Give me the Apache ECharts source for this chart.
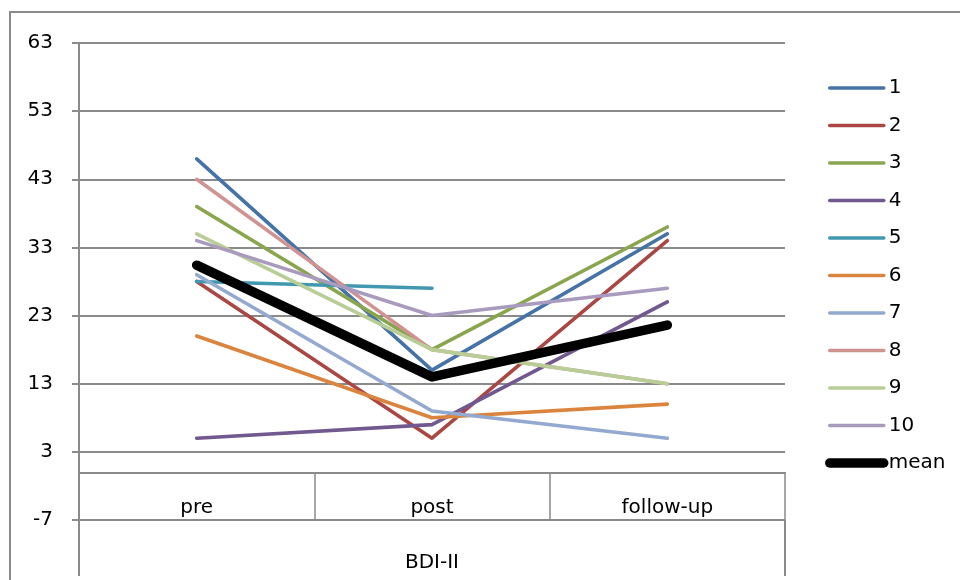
<!DOCTYPE html>
<html>
<head>
<meta charset="utf-8">
<title>BDI-II</title>
<script src="https://cdn.jsdelivr.net/npm/echarts@6/dist/echarts.min.js"></script>
<style>
  html, body { margin: 0; padding: 0; background: #fff; }
  #chart { width: 960px; height: 580px; }
</style>
</head>
<body>
<div id="chart"></div>
<script>
// Time points and the grouping label below them
const timePoints = ['pre', 'post', 'follow-up'];
const groupLabel = ['BDI-II'];

// BDI-II scores per participant (null = no measurement)
const p1 = [46, 15, 35];
const p2 = [28, 5, 34];
const p3 = [39, 18, 36];
const p4 = [5, 7, 25];
const p5 = [28, 27, null];
const p6 = [20, 8, 10];
const p7 = [29, 9, 5];
const p8 = [43, 18, 13];
const p9 = [35, 18, 13];
const p10 = [34, 23, 27];
const meanScores = [30.4, 14, 21.6];

const seriesNames = ['1', '2', '3', '4', '5', '6', '7', '8', '9', '10', 'mean'];
const seriesValues = [p1, p2, p3, p4, p5, p6, p7, p8, p9, p10, meanScores];
const seriesColors = ['#4572A7', '#AA4643', '#89A54E', '#71588F', '#4198AF',
                      '#DB843D', '#93A9CF', '#D19392', '#B9CD96', '#A99BBD', '#000000'];

const FONT = 'DejaVu Sans';
const GREY = '#8a8a8a';

const series = seriesNames.map((name, i) => {
  const isMean = name === 'mean';
  return {
    name: name,
    type: 'line',
    data: seriesValues[i],
    symbol: 'none',
    connectNulls: false,
    z: isMean ? 5 : 3,
    lineStyle: {
      color: seriesColors[i],
      width: isMean ? 9.5 : 3.6,
      cap: 'round',
      join: 'round'
    },
    itemStyle: { color: seriesColors[i] }
  };
});

const chart = echarts.init(document.getElementById('chart'), null, { renderer: 'canvas' });

chart.setOption({
  animation: false,
  backgroundColor: '#ffffff',
  textStyle: { fontFamily: FONT },
  graphic: [
    {
      // outer chart frame
      type: 'rect',
      silent: true,
      shape: { x: 10, y: 12, width: 1000, height: 620 },
      style: { fill: 'none', stroke: GREY, lineWidth: 2 }
    }
  ],
  grid: { left: 79, right: 175, top: 43, bottom: 60, containLabel: false },
  legend: {
    orient: 'vertical',
    left: 825,
    top: 76,
    padding: 0,
    itemWidth: 54,
    itemHeight: 24,
    itemGap: 13.5,
    // legend keys are plain line samples, no marker
    itemStyle: { opacity: 0, borderWidth: 0 },
    textStyle: { fontFamily: FONT, fontSize: 20, color: '#000', lineHeight: 24 },
    data: seriesNames.map((name) => ({
      name: name,
      lineStyle: { width: name === 'mean' ? 9.5 : 3.6, cap: 'round' }
    }))
  },
  xAxis: [
    {
      // category row: labels sit above the bottom line
      type: 'category',
      data: timePoints,
      position: 'bottom',
      boundaryGap: true,
      axisLine: { show: true, lineStyle: { color: GREY, width: 2 } },
      axisTick: { show: true, inside: false, length: 4, lineStyle: { color: GREY, width: 1.5 } },
      axisLabel: { inside: true, margin: 2, fontFamily: FONT, fontSize: 20, color: '#000' },
      splitLine: { show: false }
    },
    {
      // top edge of the category table with its dividers
      type: 'category',
      data: timePoints,
      position: 'bottom',
      offset: -47,
      boundaryGap: true,
      axisLine: { show: true, lineStyle: { color: GREY, width: 1.5 } },
      axisTick: { show: true, inside: false, length: 48, lineStyle: { color: GREY, width: 1.5 } },
      axisLabel: { show: false },
      splitLine: { show: false }
    },
    {
      // group row underneath
      type: 'category',
      data: groupLabel,
      position: 'bottom',
      boundaryGap: true,
      axisLine: { show: false },
      axisTick: { show: true, inside: false, length: 56, lineStyle: { color: GREY, width: 2 } },
      axisLabel: { margin: 33, fontFamily: FONT, fontSize: 20, color: '#000' },
      splitLine: { show: false }
    }
  ],
  yAxis: {
    type: 'value',
    min: -7,
    max: 63,
    interval: 10,
    axisLine: { show: true, lineStyle: { color: GREY, width: 2 } },
    axisTick: { show: true, length: 7, lineStyle: { color: GREY, width: 2 } },
    axisLabel: { margin: 26, fontFamily: FONT, fontSize: 20, color: '#000' },
    splitLine: { show: true, lineStyle: { color: GREY, width: 2 } }
  },
  series: series
});
</script>
</body>
</html>
